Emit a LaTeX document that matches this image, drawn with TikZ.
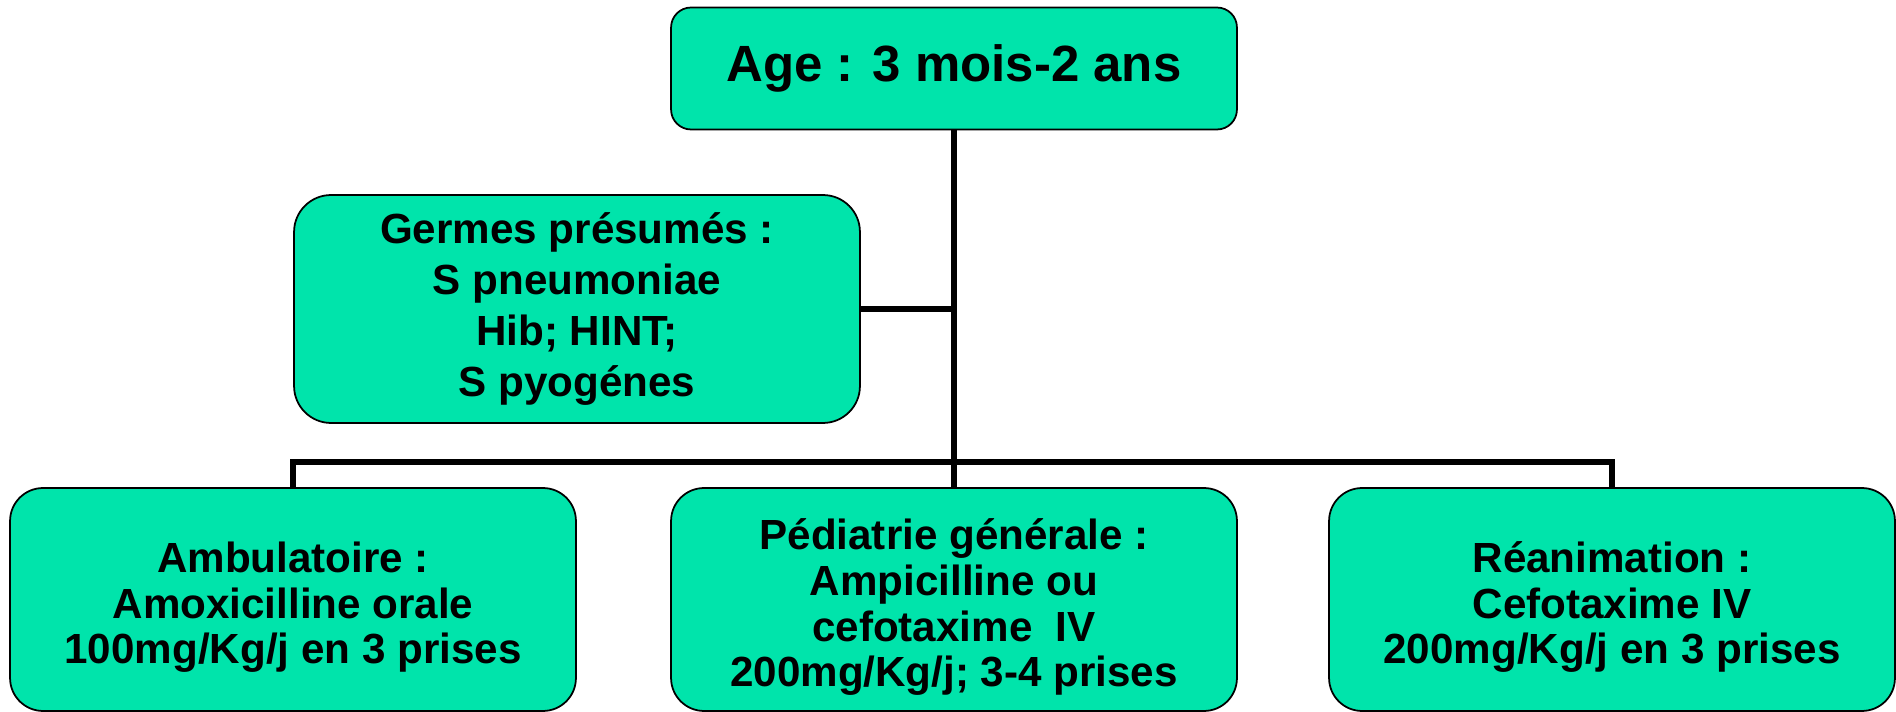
\documentclass[tikz,border=0pt]{standalone}
\usepackage{fontspec}
\setmainfont{Liberation Sans}
\definecolor{boxgreen}{RGB}{0,228,171}
\tikzset{
  % the boxes of the chart and the lines that join them
  chart box/.style={rectangle,draw,line width=1pt,fill=boxgreen,align=center,inner sep=0,
    minimum width=11.32cm,font=\bfseries\fontsize{24}{26}\selectfont},
  link/.style={draw,black,line width=3.2pt}
}
\newcommand\lowfirst{\rule{0pt}{1.1em}}

\begin{document}
\begin{tikzpicture}
[x=0.02cm,y=-0.02cm]
\useasboundingbox (0,0) rectangle (1896,712);
\node[chart box,minimum height=2.44cm,rounded corners=0.4cm,
  font=\bfseries\fontsize{29}{32}\selectfont] (age) at (954,68.5) {Age : 3 mois-2 ans};
\node[chart box,minimum height=4.56cm,rounded corners=0.74cm,
  font=\bfseries\fontsize{24}{29}\selectfont] (germ) at (577,309)
  {Germes présumés :\\S pneumoniae\\Hib; HINT;\\S pyogénes};
\node[chart box,minimum height=4.46cm,rounded corners=0.66cm] (amb) at (293,599.5)
  {\lowfirst Ambulatoire :\\Amoxicilline orale\\100mg/Kg/j en 3 prises};
\node[chart box,minimum height=4.46cm,rounded corners=0.66cm] (ped) at (954,599.5)
  {\lowfirst Pédiatrie générale :\\Ampicilline ou\\cefotaxime\ \ IV\\200mg/Kg/j; 3-4 prises};
\node[chart box,minimum height=4.46cm,rounded corners=0.66cm] (rea) at (1612,599.5)
  {\lowfirst Réanimation :\\Cefotaxime IV\\200mg/Kg/j en 3 prises};
% trunk, side branch and bus
\draw[link] (age.south) -- (ped.north);
\draw[link] (germ.east) -- (germ.east -| age.south);
\draw[link] (amb.north) -- ++(0,-25) coordinate (busl) -| (rea.north);
\end{tikzpicture}
\end{document}
